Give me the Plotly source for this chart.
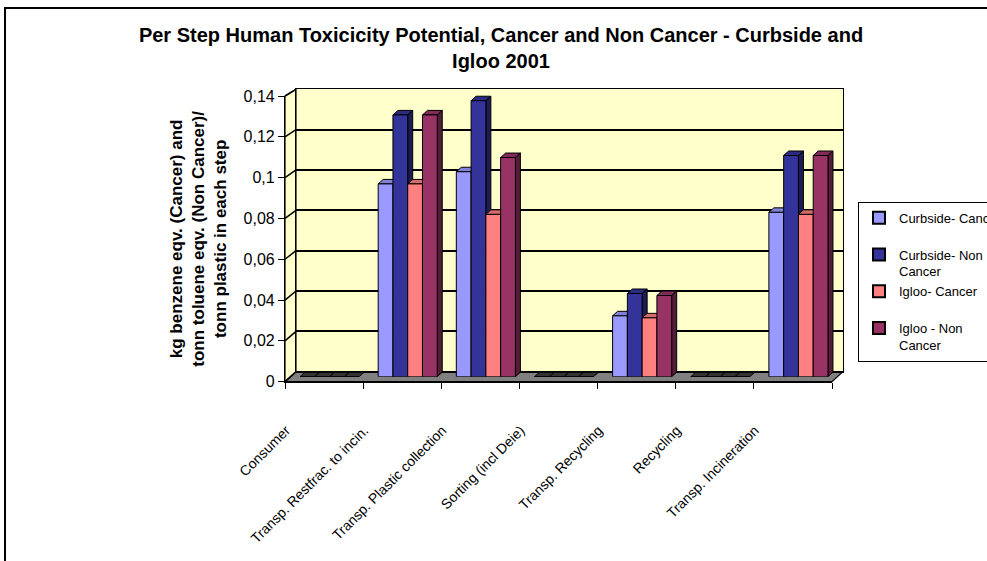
import plotly.graph_objects as go

# ---- data -------------------------------------------------------------
categories = [
    "Consumer",
    "Transp. Restfrac. to incin.",
    "Transp. Plastic collection",
    "Sorting (incl Deie)",
    "Transp. Recycling",
    "Recycling",
    "Transp. Incineration",
]
curbside_cancer = [0, 0.095, 0.101, 0, 0.030, 0, 0.081]
curbside_non_cancer = [0, 0.129, 0.136, 0, 0.041, 0, 0.109]
igloo_cancer = [0, 0.095, 0.080, 0, 0.029, 0, 0.080]
igloo_non_cancer = [0, 0.129, 0.108, 0, 0.040, 0, 0.109]

series_names = [
    "Curbside- Cancer<br> ",
    "Curbside- Non<br>Cancer",
    "Igloo- Cancer<br> ",
    "Igloo - Non<br>Cancer",
]
series_values = [curbside_cancer, curbside_non_cancer, igloo_cancer, igloo_non_cancer]
series_colors = ["#9999FF", "#333399", "#FF8080", "#993366"]

y_tick_values = [0, 0.02, 0.04, 0.06, 0.08, 0.10, 0.12, 0.14]
y_tick_labels = ["0", "0,02", "0,04", "0,06", "0,08", "0,1", "0,12", "0,14"]

title_text = ("Per Step Human Toxicicity Potential, Cancer and Non Cancer - Curbside and"
              "<br>Igloo 2001")
y_title_text = ("kg benzene eqv. (Cancer) and<br>tonn toluene eqv. (Non Cancer)/"
                "<br>tonn plastic in each step")

# ---- layout geometry (pixels) -----------------------------------------
W, H = 987, 561
FONT = "Liberation Sans, Arial, sans-serif"
WALL = "#FFFFCC"
FLOOR = "#808080"
Y_MAX = 0.14

# front frame (axes), back wall, and mid-depth plane for the bars
front = dict(x0=285, x1=832, yb=381.7, yt=96.0)
back = dict(x0=296, x1=843, yb=371.7, yt=89.3)
mid = dict(x0=290.5, x1=837.5, yb=376.7, yt=92.6)


def px(x):
    return x / W


def py(y):
    return 1 - y / H


def dom_x(p):
    return [px(p["x0"]), px(p["x1"])]


def dom_y(p):
    return [py(p["yb"]), py(p["yt"])]


def poly(points):
    return "M " + " L ".join(f"{px(x):.5f},{py(y):.5f}" for x, y in points) + " Z"


def shade(hex_color, f):
    r, g, b = (int(hex_color[i:i + 2], 16) for i in (1, 3, 5))
    return f"rgb({int(r * f)},{int(g * f)},{int(b * f)})"


fig = go.Figure()

# empty traces so the front-axis and back-wall subplots are drawn
fig.add_trace(go.Scatter(x=[], y=[], xaxis="x", yaxis="y", showlegend=False,
                         hoverinfo="skip"))
fig.add_trace(go.Scatter(x=[], y=[], xaxis="x2", yaxis="y2", showlegend=False,
                         hoverinfo="skip"))

# ---- bars on the mid-depth plane ----------------------------------------
positions = list(range(len(categories)))
for name, vals, col in zip(series_names, series_values, series_colors):
    fig.add_trace(go.Bar(
        x=positions, y=vals, name=name,
        marker=dict(color=col, line=dict(color="black", width=1)),
        xaxis="x3", yaxis="y3", hoverinfo="skip",
    ))

shapes = []

# walls and floor
shapes.append(dict(type="path", xref="paper", yref="paper", layer="below",
                   path=poly([(back["x0"], back["yb"]), (back["x0"], back["yt"]),
                              (back["x1"], back["yt"]), (back["x1"], back["yb"])]),
                   fillcolor=WALL, line=dict(width=0)))
shapes.append(dict(type="path", xref="paper", yref="paper", layer="below",
                   path=poly([(front["x0"], front["yb"]), (front["x0"], front["yt"]),
                              (back["x0"], back["yt"]), (back["x0"], back["yb"])]),
                   fillcolor=WALL, line=dict(color="black", width=1.2)))
shapes.append(dict(type="path", xref="paper", yref="paper", layer="below",
                   path=poly([(front["x0"], front["yb"]), (front["x1"], front["yb"]),
                              (back["x1"], back["yb"]), (back["x0"], back["yb"])]),
                   fillcolor=FLOOR, line=dict(color="black", width=1.2)))
# grid connectors on the side wall
for v in y_tick_values:
    yf = front["yb"] - v / Y_MAX * (front["yb"] - front["yt"])
    yb = back["yb"] - v / Y_MAX * (back["yb"] - back["yt"])
    shapes.append(dict(type="line", xref="paper", yref="paper", layer="below",
                       x0=px(front["x0"]), y0=py(yf), x1=px(back["x0"]), y1=py(yb),
                       line=dict(color="black", width=1.5)))

# 3-D top and side faces of the bars
bargap = 0.244
n_series = len(series_values)
bar_w = (1 - bargap) / n_series
unit_x = (mid["x1"] - mid["x0"]) / len(categories)
unit_y = (mid["yb"] - mid["yt"]) / Y_MAX
dx = 5.0 / unit_x
dy = 4.5 / unit_y
for i, (vals, col) in enumerate(zip(series_values, series_colors)):
    for j, v in zip(positions, vals):
        left = j - (1 - bargap) / 2 + i * bar_w
        right = left + bar_w
        top_path = (f"M {left},{v} L {right},{v} L {right + dx},{v + dy} "
                    f"L {left + dx},{v + dy} Z")
        top_fill = shade(col, 0.85) if v > 0 else "#333333"
        shapes.append(dict(type="path", xref="x3", yref="y3", layer="below",
                           path=top_path, fillcolor=top_fill,
                           line=dict(color="black", width=1)))
        if v > 0:
            side_path = (f"M {right},0 L {right + dx},{dy} L {right + dx},{v + dy} "
                         f"L {right},{v} Z")
            shapes.append(dict(type="path", xref="x3", yref="y3", layer="below",
                               path=side_path, fillcolor=shade(col, 0.55),
                               line=dict(color="black", width=1)))

# chart frame
shapes.append(dict(type="rect", xref="paper", yref="paper", layer="above",
                   x0=px(5), x1=1.05, y0=-0.05, y1=py(8),
                   line=dict(color="black", width=2), fillcolor="rgba(0,0,0,0)"))

fig.update_layout(
    width=W, height=H,
    margin=dict(l=0, r=0, t=0, b=0, autoexpand=False),
    paper_bgcolor="white",
    plot_bgcolor="rgba(0,0,0,0)",
    font=dict(family=FONT, color="black"),
    barmode="group", bargap=bargap, bargroupgap=0,
    showlegend=True,
    title=dict(text=title_text, x=501 / W, xanchor="center", y=py(42), yanchor="top",
               yref="container", font=dict(size=20, weight="bold", family=FONT)),
    legend=dict(x=px(858), y=py(201.7), xanchor="left", yanchor="top",
                bordercolor="black", borderwidth=1, bgcolor="white",
                font=dict(size=13, family=FONT), valign="top",
                tracegroupgap=0, itemsizing="constant"),
    shapes=shapes,
    # front frame: axis lines, ticks and labels
    xaxis=dict(domain=dom_x(front), anchor="y", range=[-0.5, len(categories) - 0.5],
               tickmode="array", tickvals=positions, ticktext=categories,
               ticks="", tickangle=-45, tickfont=dict(size=14, family=FONT),
               ticklabelshift=-38, ticklabelstandoff=34,
               showline=True, linecolor="black", linewidth=1.2,
               showgrid=False, zeroline=False, fixedrange=True,
               minor=dict(tickmode="array",
                          tickvals=[p - 0.5 for p in positions] + [positions[-1] + 0.5],
                          ticks="outside", ticklen=6, tickcolor="black", tickwidth=1.2,
                          showgrid=False)),
    yaxis=dict(domain=dom_y(front), anchor="x", range=[0, Y_MAX],
               tickmode="array", tickvals=y_tick_values, ticktext=y_tick_labels,
               ticks="outside", ticklen=6, tickcolor="black", tickwidth=1.2,
               tickfont=dict(size=16, family=FONT),
               showline=True, linecolor="black", linewidth=1.2,
               showgrid=False, zeroline=False, fixedrange=True,
               title=dict(text=y_title_text, standoff=12,
                          font=dict(size=17, weight="bold", family=FONT))),
    # back wall with its gridlines
    xaxis2=dict(domain=dom_x(back), anchor="y2", range=[0, 1], showticklabels=False,
                ticks="", showgrid=False, zeroline=False, fixedrange=True,
                showline=True, mirror=True, linecolor="black", linewidth=1.2),
    yaxis2=dict(domain=dom_y(back), anchor="x2", range=[0, Y_MAX], showticklabels=False,
                ticks="", tickmode="array", tickvals=y_tick_values, fixedrange=True,
                showgrid=True, gridcolor="black", gridwidth=1.5, zeroline=False,
                showline=True, mirror=True, linecolor="black", linewidth=1.2),
    # mid-depth plane carrying the bars
    xaxis3=dict(domain=dom_x(mid), anchor="y3", range=[-0.5, len(categories) - 0.5],
                visible=False, fixedrange=True),
    yaxis3=dict(domain=dom_y(mid), anchor="x3", range=[0, Y_MAX],
                visible=False, fixedrange=True),
)

fig.write_html("out.html")
